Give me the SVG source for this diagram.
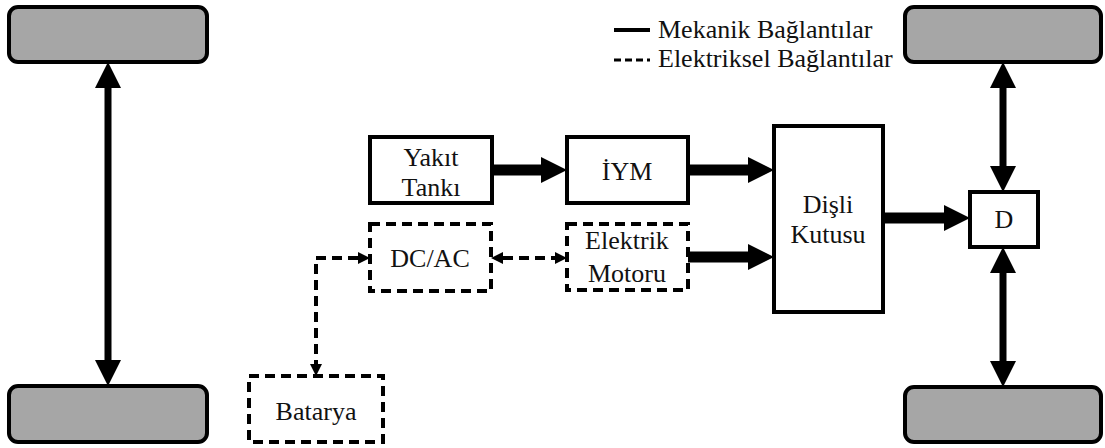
<svg xmlns="http://www.w3.org/2000/svg" width="1105" height="448" viewBox="0 0 1105 448">
<style>
.wheel{fill:#a6a6a6;stroke:#000;stroke-width:4}
.box{fill:#fff;stroke:#000;stroke-width:4}
.dbox{fill:#fff;stroke:#000;stroke-width:4;stroke-dasharray:10 6}
.t{font-family:'Liberation Serif','DejaVu Serif',serif;font-size:26px;fill:#111;text-anchor:middle}
.lt{font-family:'Liberation Serif','DejaVu Serif',serif;font-size:26px;fill:#111}
.mh{stroke:#000;stroke-width:11;fill:none}
.mv{stroke:#000;stroke-width:7;fill:none}
.el{stroke:#000;stroke-width:4;fill:none;stroke-dasharray:10 6}
</style>
<defs>
<marker id="big" markerUnits="userSpaceOnUse" markerWidth="26" markerHeight="26" refX="0" refY="13" orient="auto-start-reverse" viewBox="0 0 26 26">
<path d="M0,0 L26,13 L0,26 z" fill="#000"/>
</marker>
<marker id="small" markerUnits="userSpaceOnUse" markerWidth="12" markerHeight="12" refX="0" refY="6" orient="auto-start-reverse" viewBox="0 0 12 12">
<path d="M0,0 L12,6 L0,12 z" fill="#000"/>
</marker>
</defs>

<g id="wheel-lt"><rect class="wheel" x="9" y="7" width="198" height="55" rx="9"/></g>
<g id="wheel-lb"><rect class="wheel" x="9" y="386" width="198" height="56" rx="9"/></g>
<g id="wheel-rt"><rect class="wheel" x="905" y="7" width="196" height="55" rx="9"/></g>
<g id="wheel-rb"><rect class="wheel" x="905" y="387" width="196" height="55" rx="9"/></g>

<g id="legend">
<line x1="614" y1="30" x2="650" y2="30" stroke="#000" stroke-width="4"/>
<text class="lt" x="658" y="38">Mekanik Bağlantılar</text>
<line x1="614" y1="60" x2="650" y2="60" stroke="#000" stroke-width="3" stroke-dasharray="7 4"/>
<text class="lt" x="658" y="67">Elektriksel Bağlantılar</text>
</g>

<g id="yakit"><rect class="box" x="370" y="137" width="122" height="66"/>
<text class="t" x="431" y="166">Yakıt</text><text class="t" x="431" y="196">Tankı</text></g>
<g id="iym"><rect class="box" x="567" y="137" width="121" height="66"/>
<text class="t" x="627" y="180">İYM</text></g>
<g id="dcac"><rect class="dbox" x="370" y="224" width="121" height="67"/>
<text class="t" x="430" y="267">DC/AC</text></g>
<g id="motor"><rect class="dbox" x="567" y="224" width="121" height="66"/>
<text class="t" x="627" y="249">Elektrik</text><text class="t" x="627" y="282">Motoru</text></g>
<g id="disli"><rect class="box" x="774" y="126" width="109" height="186"/>
<text class="t" x="828" y="213">Dişli</text><text class="t" x="828" y="243">Kutusu</text></g>
<g id="d"><rect class="box" x="970" y="192" width="68" height="55"/>
<text class="t" x="1004" y="228">D</text></g>
<g id="batarya"><rect class="dbox" x="249" y="376" width="134" height="66"/>
<text class="t" x="316" y="420">Batarya</text></g>

<g id="connectors">
<line class="mv" x1="108" y1="88" x2="108" y2="360" marker-start="url(#big)" marker-end="url(#big)"/>
<line class="mv" x1="1003" y1="88" x2="1003" y2="166" marker-start="url(#big)" marker-end="url(#big)"/>
<line class="mv" x1="1003" y1="273" x2="1003" y2="361" marker-start="url(#big)" marker-end="url(#big)"/>
<line class="mh" x1="492" y1="170" x2="541" y2="170" marker-end="url(#big)"/>
<line class="mh" x1="688" y1="170" x2="748" y2="170" marker-end="url(#big)"/>
<line class="mh" x1="688" y1="257" x2="748" y2="257" marker-end="url(#big)"/>
<line class="mh" x1="883" y1="218" x2="944" y2="218" marker-end="url(#big)"/>
<line class="el" x1="503" y1="258" x2="555" y2="258" marker-start="url(#small)" marker-end="url(#small)"/>
<path class="el" d="M358,258 H316 V364" marker-start="url(#small)" marker-end="url(#small)"/>
</g>
</svg>
